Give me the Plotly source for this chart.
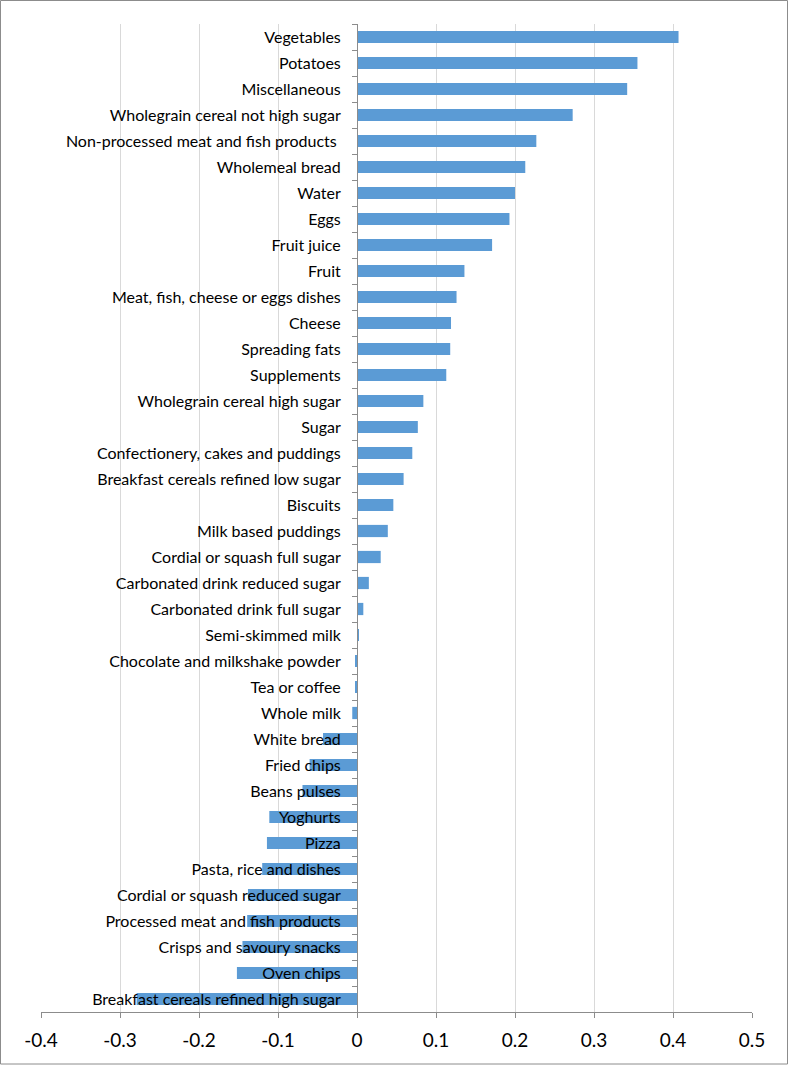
import plotly.graph_objects as go

categories = [
    "Vegetables", "Potatoes", "Miscellaneous", "Wholegrain cereal not high sugar",
    "Non-processed meat and fish products ", "Wholemeal bread", "Water", "Eggs",
    "Fruit juice", "Fruit", "Meat, fish, cheese or eggs dishes", "Cheese",
    "Spreading fats", "Supplements", "Wholegrain cereal high sugar", "Sugar",
    "Confectionery, cakes and puddings", "Breakfast cereals refined low sugar",
    "Biscuits", "Milk based puddings", "Cordial or squash full sugar",
    "Carbonated drink reduced sugar", "Carbonated drink full sugar",
    "Semi-skimmed milk", "Chocolate and milkshake powder", "Tea or coffee",
    "Whole milk", "White bread", "Fried chips", "Beans pulses", "Yoghurts",
    "Pizza", "Pasta, rice and dishes", "Cordial or squash reduced sugar",
    "Processed meat and fish products", "Crisps and savoury snacks",
    "Oven chips", "Breakfast cereals refined high sugar",
]
values = [
    0.407, 0.355, 0.342, 0.273, 0.227, 0.213, 0.200, 0.193, 0.171, 0.136,
    0.126, 0.119, 0.118, 0.113, 0.084, 0.077, 0.070, 0.059, 0.046, 0.039,
    0.030, 0.015, 0.008, 0.002, -0.002, -0.002, -0.006, -0.043, -0.060,
    -0.069, -0.111, -0.114, -0.120, -0.138, -0.139, -0.145, -0.152, -0.279,
]
x_ticks = [-0.4, -0.3, -0.2, -0.1, 0, 0.1, 0.2, 0.3, 0.4, 0.5]
x_ticktext = ["-0.4", "-0.3", "-0.2", "-0.1", "0", "0.1", "0.2", "0.3", "0.4", "0.5"]

W, H = 790, 1067
ml, mr, mt, mb = 41, 38, 24, 55
pw = W - ml - mr
ph = H - mt - mb
xmin, xmax = -0.4, 0.5
FONT = "Lato, Open Sans, sans-serif"

fig = go.Figure(go.Bar(
    x=values, y=categories, orientation="h",
    marker=dict(color="#5B9BD5", line=dict(width=0)),
))

fig.update_layout(
    width=W, height=H,
    margin=dict(l=ml, r=mr, t=mt, b=mb, pad=0),
    paper_bgcolor="white", plot_bgcolor="white",
    bargap=0.53,
    showlegend=False,
    font=dict(family=FONT, color="black"),
    xaxis=dict(
        range=[xmin, xmax], tickvals=x_ticks, ticktext=x_ticktext,
        showgrid=True, gridcolor="#D9D9D9", gridwidth=1,
        zeroline=False, showline=True, linecolor="#8C8C8C", linewidth=1,
        ticks="outside", ticklen=5, tickcolor="#8C8C8C",
        tickfont=dict(size=19, family=FONT),
        ticklabelstandoff=6,
    ),
    yaxis=dict(
        categoryorder="array", categoryarray=categories,
        autorange="reversed",
        anchor="free", position=(0 - xmin) / (xmax - xmin),
        showline=True, linecolor="#8C8C8C", linewidth=1,
        ticks="outside", ticklen=5, tickcolor="#8C8C8C",
        tickson="boundaries", showgrid=False,
        tickfont=dict(size=16, family=FONT),
        ticklabelstandoff=13,
    ),
    shapes=[dict(
        type="rect", xref="paper", yref="paper",
        x0=-(ml - 0.5) / pw, x1=1 + (mr - 2.5) / pw,
        y0=-(mb - 3) / ph, y1=1 + (mt - 0.5) / ph,
        line=dict(color="#8C8C8C", width=1), fillcolor="rgba(0,0,0,0)",
        layer="above",
    )],
)

fig.write_html(
    "out.html",
    config={"displayModeBar": False},
    post_script="document.body.style.margin='0';document.body.style.padding='0';",
)
